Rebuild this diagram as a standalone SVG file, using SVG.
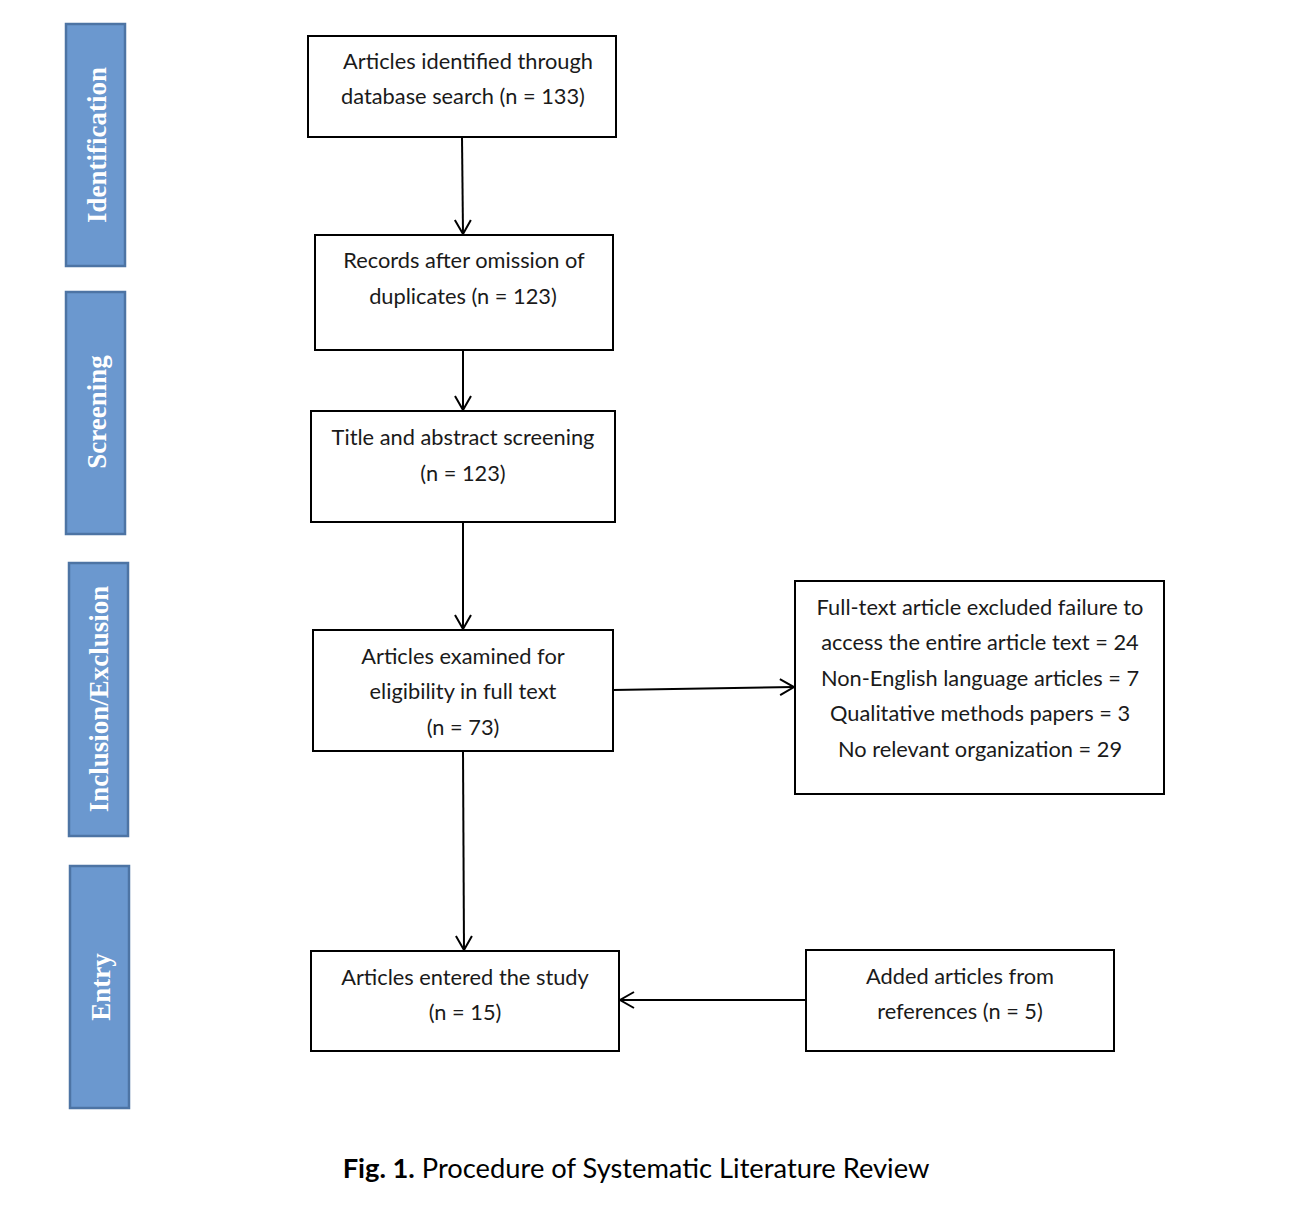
<svg xmlns="http://www.w3.org/2000/svg" width="1296" height="1214" viewBox="0 0 1296 1214">
<style>
.side{fill:#6b98cf;stroke:#4d74a4;stroke-width:2.5}
.st{font-family:"Liberation Serif",serif;font-weight:bold;font-size:27px;fill:#ffffff;text-anchor:middle;dominant-baseline:central}
.box{fill:#ffffff;stroke:#000000;stroke-width:2}
.t{font-family:Lato,"Open Sans",sans-serif;font-size:21.8px;fill:#1a1a1a;text-anchor:middle}
.cap{font-family:Lato,"Open Sans",sans-serif;font-size:27.3px;fill:#000;text-anchor:middle}
.edge{stroke:#000;stroke-width:2;fill:none}
</style>
<defs>
<marker id="arr" viewBox="0 0 20 20" refX="18" refY="10" markerWidth="20" markerHeight="20" markerUnits="userSpaceOnUse" orient="auto">
<path d="M4,2 L18,10 L4,18" fill="none" stroke="#000" stroke-width="2"/>
</marker>
</defs>
<rect width="1296" height="1214" fill="#ffffff"/>
<g id="stage-identification"><rect class="side" x="66" y="24" width="59" height="242"/><text class="st" transform="translate(97,145) rotate(-90)">Identification</text></g>
<g id="stage-screening"><rect class="side" x="66" y="292" width="59" height="242"/><text class="st" transform="translate(97,412) rotate(-90)">Screening</text></g>
<g id="stage-inclusion"><rect class="side" x="69" y="563" width="59" height="273"/><text class="st" transform="translate(99,699) rotate(-90)">Inclusion/Exclusion</text></g>
<g id="stage-entry"><rect class="side" x="70" y="866" width="59" height="242"/><text class="st" transform="translate(101,987) rotate(-90)">Entry</text></g>

<g id="connectors">
<path class="edge" d="M462,137 L463,234" marker-end="url(#arr)"/>
<path class="edge" d="M463,350 L463,410" marker-end="url(#arr)"/>
<path class="edge" d="M463,522 L463,629" marker-end="url(#arr)"/>
<path class="edge" d="M613,690 L794,687" marker-end="url(#arr)"/>
<path class="edge" d="M463,751 L464,950" marker-end="url(#arr)"/>
<path class="edge" d="M806,1000 L620,1000" marker-end="url(#arr)"/>
</g>

<g id="node-identified"><rect class="box" x="308" y="36" width="308" height="101"/>
<text class="t" x="468" y="69">Articles identified through</text>
<text class="t" x="463" y="104">database search (n = 133)</text></g>
<g id="node-records"><rect class="box" x="315" y="235" width="298" height="115"/>
<text class="t" x="464" y="268">Records after omission of</text>
<text class="t" x="463" y="304">duplicates (n = 123)</text></g>
<g id="node-screening"><rect class="box" x="311" y="411" width="304" height="111"/>
<text class="t" x="463" y="445">Title and abstract screening</text>
<text class="t" x="463" y="481">(n = 123)</text></g>
<g id="node-eligibility"><rect class="box" x="313" y="630" width="300" height="121"/>
<text class="t" x="463" y="664">Articles examined for</text>
<text class="t" x="463" y="699">eligibility in full text</text>
<text class="t" x="463" y="735">(n = 73)</text></g>
<g id="node-excluded"><rect class="box" x="795" y="581" width="369" height="213"/>
<text class="t" x="980" y="615">Full-text article excluded failure to</text>
<text class="t" x="980" y="650">access the entire article text = 24</text>
<text class="t" x="980" y="686">Non-English language articles = 7</text>
<text class="t" x="980" y="721">Qualitative methods papers = 3</text>
<text class="t" x="980" y="757">No relevant organization = 29</text></g>
<g id="node-entered"><rect class="box" x="311" y="951" width="308" height="100"/>
<text class="t" x="465" y="985">Articles entered the study</text>
<text class="t" x="465" y="1020">(n = 15)</text></g>
<g id="node-added"><rect class="box" x="806" y="950" width="308" height="101"/>
<text class="t" x="960" y="984">Added articles from</text>
<text class="t" x="960" y="1019">references (n = 5)</text></g>

<text class="cap" x="636" y="1178"><tspan font-weight="bold">Fig. 1.</tspan> Procedure of Systematic Literature Review</text>
</svg>
